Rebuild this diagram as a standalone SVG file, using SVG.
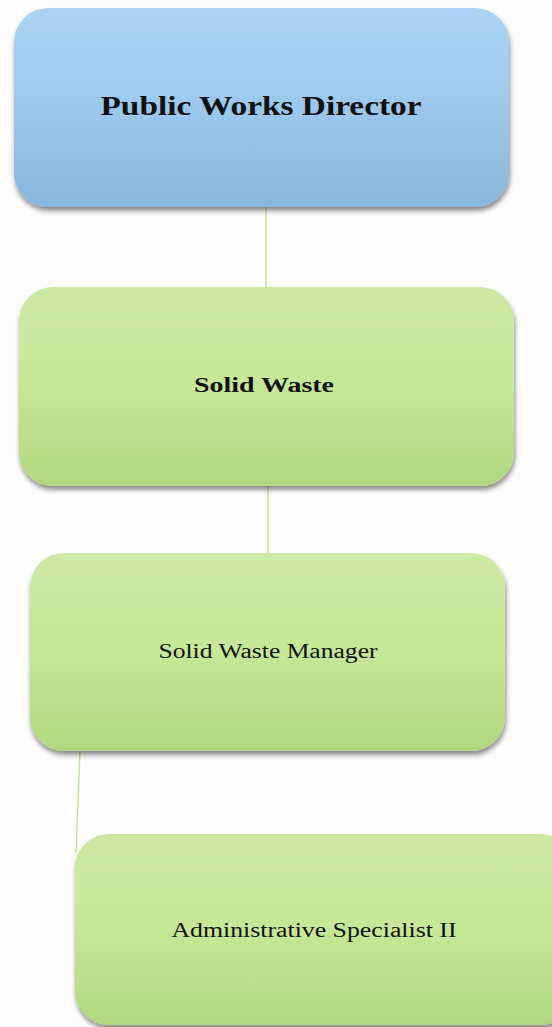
<svg xmlns="http://www.w3.org/2000/svg" width="552" height="1027" viewBox="0 0 552 1027">
<defs>
<linearGradient id="gBlue" x1="0" y1="0" x2="0" y2="1">
<stop offset="0" stop-color="#acd3f0"/>
<stop offset="0.4" stop-color="#9fcbef"/>
<stop offset="1" stop-color="#88b6dc"/>
</linearGradient>
<linearGradient id="gGreen" x1="0" y1="0" x2="0" y2="1">
<stop offset="0" stop-color="#cde9a4"/>
<stop offset="0.5" stop-color="#c6e795"/>
<stop offset="1" stop-color="#b2d67f"/>
</linearGradient>
<filter id="shadow" x="-10%" y="-10%" width="120%" height="125%">
<feGaussianBlur in="SourceAlpha" stdDeviation="2.5"/>
<feOffset dx="1" dy="4" result="b"/>
<feComponentTransfer><feFuncA type="linear" slope="0.45"/></feComponentTransfer>
<feMerge><feMergeNode/><feMergeNode in="SourceGraphic"/></feMerge>
</filter>
</defs>
<style>
.lbl{font-family:"Liberation Serif","DejaVu Serif",serif;fill:#111;text-anchor:middle}
.b{font-weight:bold}
.conn{stroke:#c5e39a;stroke-width:1.5;fill:none}
</style>
<rect width="552" height="1027" fill="#fdfdfd"/>
<g id="connectors">
<line class="conn" x1="266" y1="207" x2="266" y2="287"/>
<line class="conn" x1="268" y1="486" x2="268" y2="553"/>
<line class="conn" x1="80" y1="751" x2="76" y2="853"/>
</g>
<g id="node-director">
<rect x="14" y="8" width="495" height="199" rx="34" fill="url(#gBlue)" filter="url(#shadow)"/>
<text class="lbl b" x="261" y="115" font-size="27" textLength="321" lengthAdjust="spacingAndGlyphs">Public Works Director</text>
</g>
<g id="node-solid-waste">
<rect x="19" y="287" width="495" height="199" rx="34" fill="url(#gGreen)" filter="url(#shadow)"/>
<text class="lbl b" x="264" y="392" font-size="20" textLength="140" lengthAdjust="spacingAndGlyphs">Solid Waste</text>
</g>
<g id="node-manager">
<rect x="30" y="553" width="475" height="198" rx="34" fill="url(#gGreen)" filter="url(#shadow)"/>
<text class="lbl" x="268" y="658" font-size="20" textLength="219" lengthAdjust="spacingAndGlyphs">Solid Waste Manager</text>
</g>
<g id="node-admin">
<rect x="75" y="834" width="500" height="191" rx="34" fill="url(#gGreen)" filter="url(#shadow)"/>
<text class="lbl" x="314" y="937" font-size="20" textLength="285" lengthAdjust="spacingAndGlyphs">Administrative Specialist II</text>
</g>
</svg>
